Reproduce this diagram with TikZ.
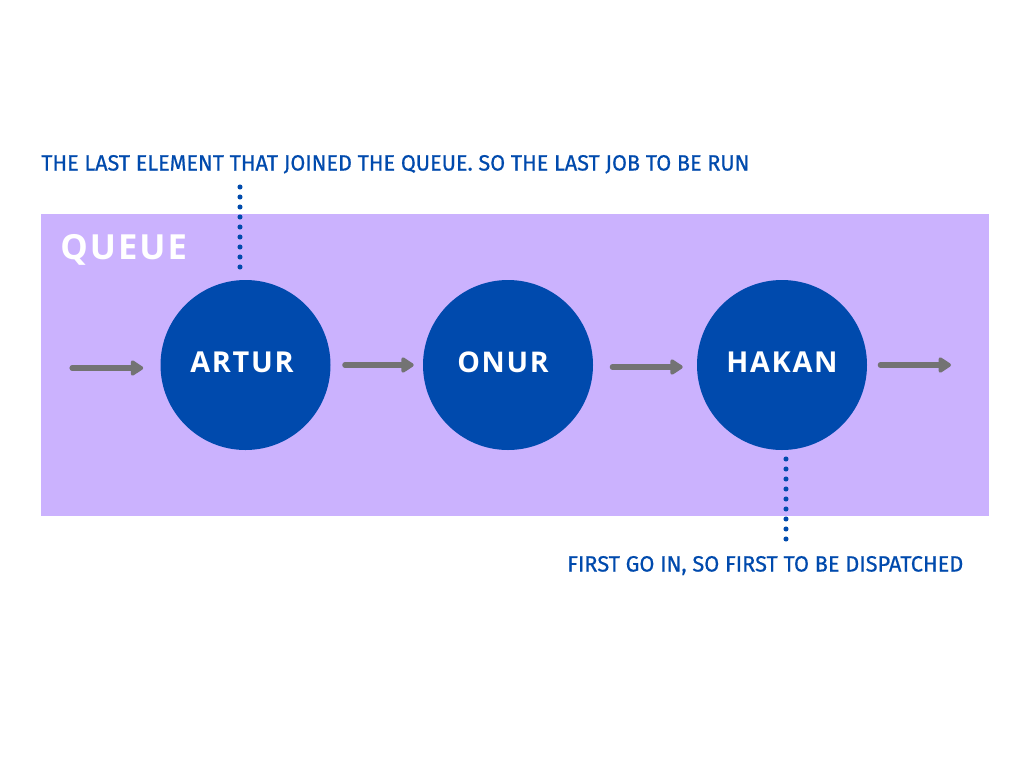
\documentclass[tikz,border=0pt]{standalone}
\usepackage{fontspec}
\usepackage{graphicx}
\usetikzlibrary{arrows.meta}
\newfontfamily\notefont{Fira Sans}[FakeBold=0.6]
\newfontfamily\labelfont{Open Sans}[LetterSpace=6]
\definecolor{qblue}{RGB}{0,74,173}
\definecolor{qpurple}{RGB}{203,178,254}
\definecolor{qgray}{RGB}{115,115,115}
\tikzset{
  elem/.style={circle, fill=qblue, minimum size=127.5pt, inner sep=0pt, text=white},
  flow/.style={draw=qgray, line width=3.8pt, line cap=round,
    -{Triangle[length=10.5pt,width=13pt,round]}},
  dotline/.style={draw=qblue, line width=3.8pt, line cap=round, dash pattern=on 0pt off 7.5pt},
  note/.style={text=qblue, inner sep=0pt, anchor=base west},
  ename/.style={inner sep=0pt, anchor=base, text=white}
}
\begin{document}
\begin{tikzpicture}[x=0.75pt,y=-0.75pt]
\useasboundingbox (0,0) rectangle (1024,768);
\fill[white] (0,0) rectangle (1024,768);
\fill[qpurple] (41,214) rectangle (989,516);
\node[inner sep=0pt, anchor=base west, text=white] (qlabel) at (60,259)
  {\resizebox{!}{18.8pt}{\labelfont\bfseries QUEUE}};
\node[elem] (artur) at (245.5,365) {};
\node[elem] (onur) at (508,365) {};
\node[elem] (hakan) at (782,365) {};
\node[ename] (arturl) at (242,372) {\resizebox{!}{15.5pt}{\labelfont\bfseries ARTUR}};
\node[ename] (onurl) at (503,372) {\resizebox{!}{15.5pt}{\labelfont\bfseries ONUR}};
\node[ename] (hakanl) at (782,372) {\resizebox{!}{15.5pt}{\labelfont\bfseries HAKAN}};
\coordinate (in) at (72,368);
\coordinate (out) at (951,365);
\draw[flow, shorten >=12.75pt] (in) -- (in -| artur.west);
\draw[flow, shorten <=10.5pt, shorten >=6.75pt] (artur.east) -- (onur.west);
\draw[flow, shorten <=14.25pt, shorten >=10.5pt] ([yshift=-1.5pt]onur.east) -- ([yshift=-1.5pt]hakan.west);
\draw[flow, shorten <=9.75pt] (hakan.east) -- (out);
\node[note] (lastnote) at (41,170.5)
  {\resizebox{531pt}{11.6pt}{\notefont THE LAST ELEMENT THAT JOINED THE QUEUE. SO THE LAST JOB TO BE RUN}};
\node[note] (firstnote) at (567,571.5)
  {\resizebox{297pt}{11.6pt}{\notefont FIRST GO IN, SO FIRST TO BE DISPATCHED}};
\coordinate (ltop) at (240,187);
\coordinate (lbot) at (240,267.5);
\draw[dotline] (ltop) -- (lbot);
\coordinate (ftop) at (786,459);
\coordinate (fbot) at (786,539.5);
\draw[dotline] (ftop) -- (fbot);
\end{tikzpicture}
\end{document}
